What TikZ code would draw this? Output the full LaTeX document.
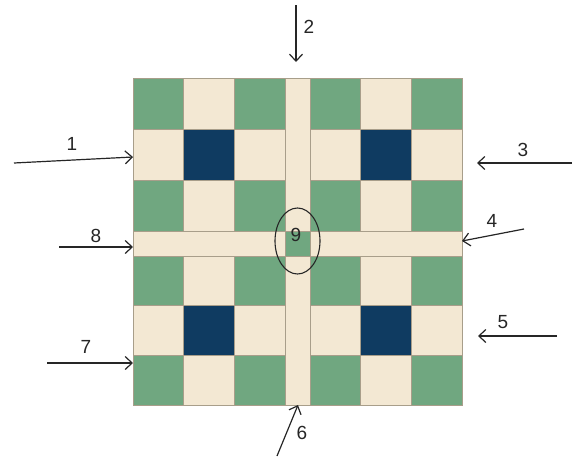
\documentclass[tikz,border=0pt]{standalone}
\usepackage{fontspec}
\setmainfont{Liberation Sans}
\usetikzlibrary{arrows.meta}
\definecolor{qgreen}{RGB}{112,167,128}
\definecolor{qbeige}{RGB}{243,232,211}
\definecolor{qnavy}{RGB}{15,59,97}
\definecolor{qseam}{RGB}{168,158,138}
\begin{document}
\begin{tikzpicture}[x=1pt,y=-1pt,
  arr/.style={-{Straight Barb[length=7pt,width=13pt]}, line width=1.2pt, draw=black!85},
  lbl/.style={font=\fontsize{19}{22}\selectfont, inner sep=0pt, text=black!85},
  cell/.style={draw=qseam, line width=0.8pt}]
\useasboundingbox (0,0) rectangle (574,458);
% blocks
\foreach \bx/\by/\ch in {133/78/51, 310/78/51, 133/256/49.67, 310/256/49.67}{
  \foreach \i/\j/\c in {0/0/qgreen,1/0/qbeige,2/0/qgreen,0/1/qbeige,1/1/qnavy,2/1/qbeige,0/2/qgreen,1/2/qbeige,2/2/qgreen}{
    \filldraw[cell, fill=\c] ({\bx+\i*50.67},{\by+\j*\ch}) rectangle ++(50.67,\ch);
  }
}
% sashes
\filldraw[cell, fill=qbeige] (285,78) rectangle (310,405);
\filldraw[cell, fill=qbeige] (133,231) rectangle (462,256);
\filldraw[cell, fill=qgreen] (285,231) rectangle (310,256);
\draw[qseam, line width=0.8pt] (133,78) rectangle (462,405);
% ellipse and 9
\node[lbl] (n9) at (296,235) {9};
\draw[line width=1.1pt, black!85] (297.5,241) ellipse [x radius=22.5, y radius=33];
% arrow coordinates
\coordinate (s1) at (14,163);  \coordinate (e1) at (133,157);
\coordinate (s2) at (296,5);   \coordinate (e2) at (296,62);
\coordinate (s3) at (572,163); \coordinate (e3) at (477,163);
\coordinate (s4) at (524,229); \coordinate (e4) at (462,241);
\coordinate (s5) at (557,336); \coordinate (e5) at (478,336);
\coordinate (s6) at (277,456); \coordinate (e6) at (298,405);
\coordinate (s7) at (47,363);  \coordinate (e7) at (133,363);
\coordinate (s8) at (59,247);  \coordinate (e8) at (133,247);
\foreach \k in {1,...,8}{ \draw[arr] (s\k) -- (e\k); }
% labels
\node[lbl] (l1) at (72,144) {1};
\node[lbl] (l2) at (309,27) {2};
\node[lbl] (l3) at (523,150) {3};
\node[lbl] (l4) at (492,221) {4};
\node[lbl] (l5) at (503,322) {5};
\node[lbl] (l6) at (302,433) {6};
\node[lbl] (l7) at (86,347) {7};
\node[lbl] (l8) at (96,236) {8};
\end{tikzpicture}
\end{document}
